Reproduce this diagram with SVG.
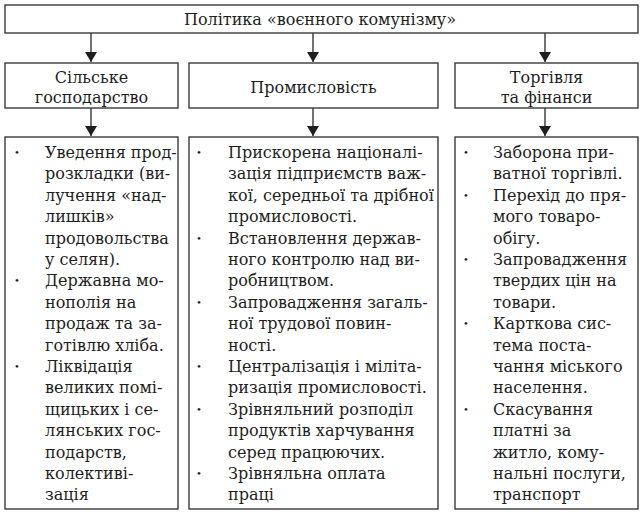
<svg xmlns="http://www.w3.org/2000/svg" width="643" height="514" viewBox="0 0 643 514">
<defs>
<style>
.box{fill:#fff;stroke:#3a3a3a;stroke-width:1.4}
.t{font-family:"DejaVu Serif","Liberation Serif",serif;font-size:16px;fill:#1e1e1e}
.h{text-anchor:middle}
.b{font-family:"DejaVu Serif","Liberation Serif",serif;font-size:10px;fill:#1e1e1e;text-anchor:middle}
.c{stroke:#262626;stroke-width:1.3;fill:none}
</style>
<marker id="ah" viewBox="0 0 10 12" refX="10" refY="6" markerWidth="10" markerHeight="12" markerUnits="userSpaceOnUse" orient="auto">
<path d="M0,0 L10,6 L0,12 Z" fill="#1e1e1e"/>
</marker>
</defs>
<rect width="643" height="514" fill="#fff"/>
<g id="connectors">
<line class="c" x1="91" y1="33" x2="91" y2="62" marker-end="url(#ah)"/>
<line class="c" x1="313" y1="33" x2="313" y2="62" marker-end="url(#ah)"/>
<line class="c" x1="545" y1="33" x2="545" y2="62" marker-end="url(#ah)"/>
<line class="c" x1="91" y1="108" x2="91" y2="136" marker-end="url(#ah)"/>
<line class="c" x1="313" y1="108" x2="313" y2="136" marker-end="url(#ah)"/>
<line class="c" x1="545" y1="108" x2="545" y2="136" marker-end="url(#ah)"/>
</g>
<g id="top">
<rect class="box" x="5" y="5" width="633" height="28"/>
<text class="t h" x="320" y="25">Політика «воєнного комунізму»</text>
</g>
<g id="agri">
<rect class="box" x="5" y="63" width="173" height="45"/>
<text class="t h" x="91.5" y="83">Сільське</text>
<text class="t h" x="91.5" y="103">господарство</text>
</g>
<g id="industry">
<rect class="box" x="189" y="63" width="249" height="45"/>
<text class="t h" x="313.5" y="93">Промисловість</text>
</g>
<g id="trade">
<rect class="box" x="455" y="63" width="183" height="45"/>
<text class="t h" x="546.5" y="83">Торгівля</text>
<text class="t h" x="546.5" y="103">та фінанси</text>
</g>
<g id="agri-list">
<rect class="box" x="5" y="137" width="173" height="372"/>
<text class="b" x="17" y="156">•</text>
<text class="b" x="17" y="284.4">•</text>
<text class="b" x="17" y="370">•</text>
<text class="t">
<tspan x="45" y="158">Уведення прод-</tspan>
<tspan x="45" y="179.4">розкладки (ви-</tspan>
<tspan x="45" y="200.8">лучення «над-</tspan>
<tspan x="45" y="222.2">лишків»</tspan>
<tspan x="45" y="243.6">продовольства</tspan>
<tspan x="45" y="265">у селян).</tspan>
<tspan x="45" y="286.4">Державна мо-</tspan>
<tspan x="45" y="307.8">нополія на</tspan>
<tspan x="45" y="329.2">продаж та за-</tspan>
<tspan x="45" y="350.6">готівлю хліба.</tspan>
<tspan x="45" y="372">Ліквідація</tspan>
<tspan x="45" y="393.4">великих помі-</tspan>
<tspan x="45" y="414.8">щицьких і се-</tspan>
<tspan x="45" y="436.2">лянських гос-</tspan>
<tspan x="45" y="457.6">подарств,</tspan>
<tspan x="45" y="479">колективі-</tspan>
<tspan x="45" y="500.4">зація</tspan>
</text>
</g>
<g id="industry-list">
<rect class="box" x="189" y="137" width="249" height="372"/>
<text class="b" x="199" y="156">•</text>
<text class="b" x="199" y="241.6">•</text>
<text class="b" x="199" y="305.8">•</text>
<text class="b" x="199" y="370">•</text>
<text class="b" x="199" y="412.8">•</text>
<text class="b" x="199" y="477">•</text>
<text class="t">
<tspan x="228" y="158">Прискорена націоналі-</tspan>
<tspan x="228" y="179.4">зація підприємств важ-</tspan>
<tspan x="228" y="200.8">кої, середньої та дрібної</tspan>
<tspan x="228" y="222.2">промисловості.</tspan>
<tspan x="228" y="243.6">Встановлення держав-</tspan>
<tspan x="228" y="265">ного контролю над ви-</tspan>
<tspan x="228" y="286.4">робництвом.</tspan>
<tspan x="228" y="307.8">Запровадження загаль-</tspan>
<tspan x="228" y="329.2">ної трудової повин-</tspan>
<tspan x="228" y="350.6">ності.</tspan>
<tspan x="228" y="372">Централізація і мілі&#1090;&#1072;-</tspan>
<tspan x="228" y="393.4">ризація промисловості.</tspan>
<tspan x="228" y="414.8">Зрівняльний розподіл</tspan>
<tspan x="228" y="436.2">продуктів харчування</tspan>
<tspan x="228" y="457.6">серед працюючих.</tspan>
<tspan x="228" y="479">Зрівняльна оплата</tspan>
<tspan x="228" y="500.4">праці</tspan>
</text>
</g>
<g id="trade-list">
<rect class="box" x="455" y="137" width="183" height="372"/>
<text class="b" x="466" y="156">•</text>
<text class="b" x="466" y="198.8">•</text>
<text class="b" x="466" y="263">•</text>
<text class="b" x="466" y="327.2">•</text>
<text class="b" x="466" y="412.8">•</text>
<text class="t">
<tspan x="493" y="158">Заборона при-</tspan>
<tspan x="493" y="179.4">ватної торгівлі.</tspan>
<tspan x="493" y="200.8">Перехід до пря-</tspan>
<tspan x="493" y="222.2">мого товаро-</tspan>
<tspan x="493" y="243.6">обігу.</tspan>
<tspan x="493" y="265">Запровадження</tspan>
<tspan x="493" y="286.4">твердих цін на</tspan>
<tspan x="493" y="307.8">товари.</tspan>
<tspan x="493" y="329.2">Карткова сис-</tspan>
<tspan x="493" y="350.6">тема поста-</tspan>
<tspan x="493" y="372">чання міського</tspan>
<tspan x="493" y="393.4">населення.</tspan>
<tspan x="493" y="414.8">Скасування</tspan>
<tspan x="493" y="436.2">платні за</tspan>
<tspan x="493" y="457.6">житло, кому-</tspan>
<tspan x="493" y="479">нальні послуги,</tspan>
<tspan x="493" y="500.4">транспорт</tspan>
</text>
</g>
</svg>
